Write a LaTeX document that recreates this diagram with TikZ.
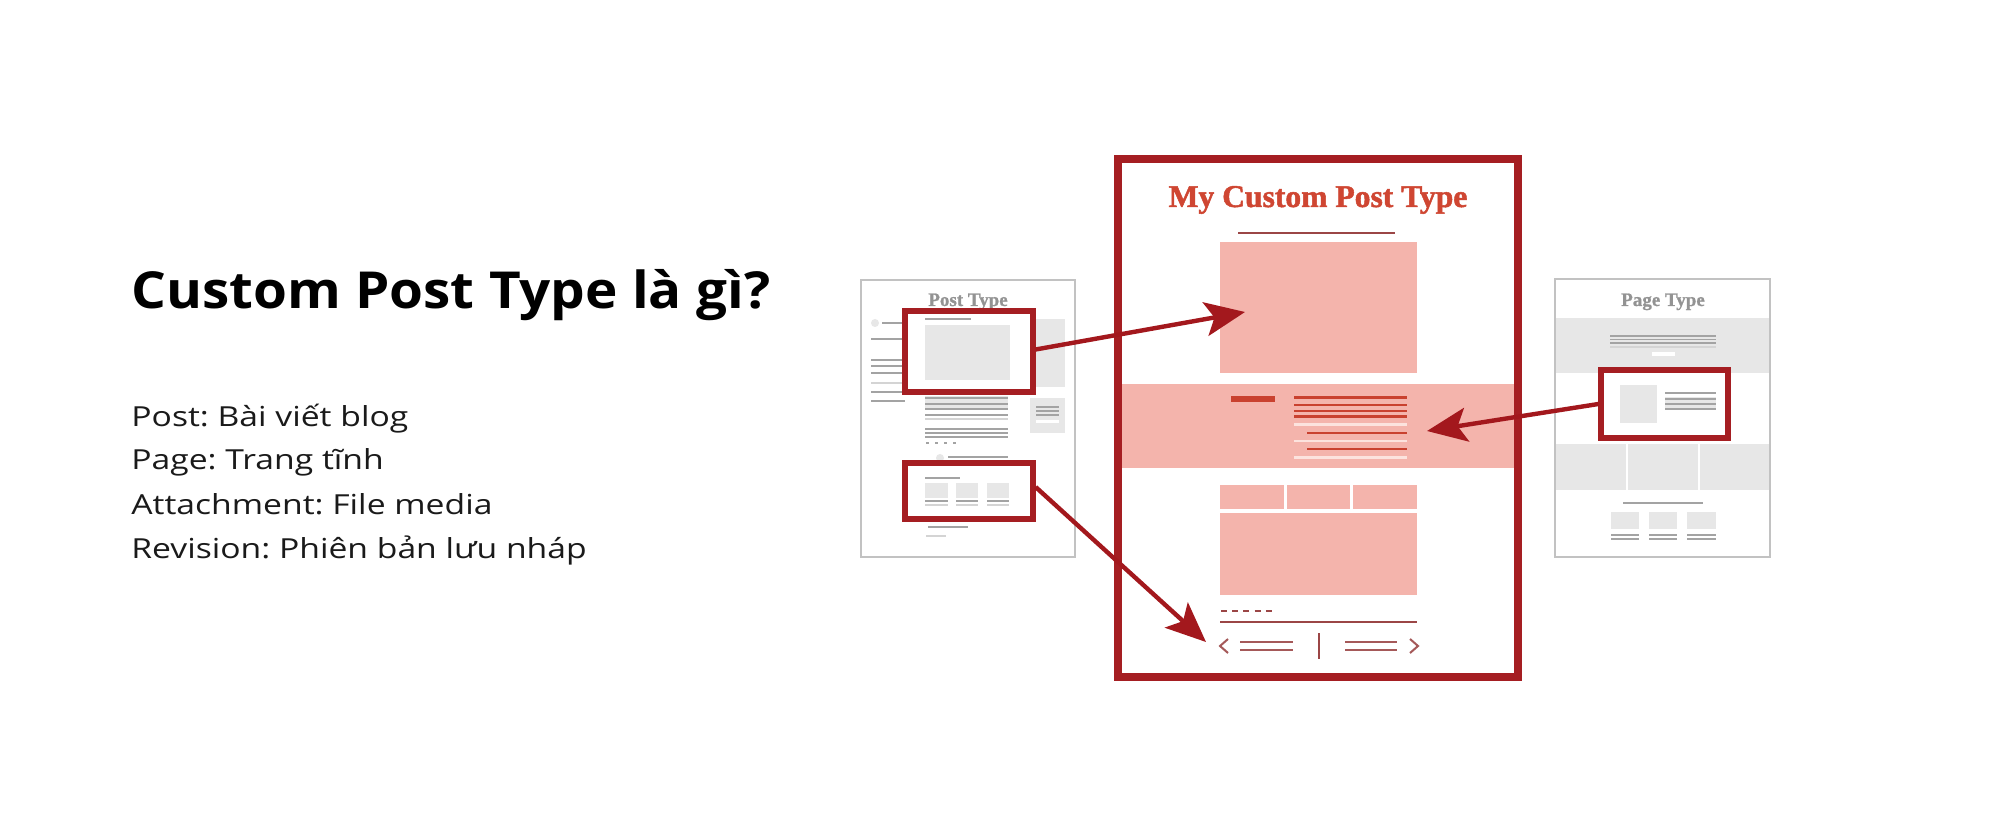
\documentclass[tikz,border=0pt]{standalone}
\usepackage{fontspec}
\usetikzlibrary{arrows.meta,fit}
\setmainfont{Open Sans}
\newfontfamily\titlef[FakeStretch=1.075]{Open Sans}
\newfontfamily\bodyf[FakeStretch=1.22]{Open Sans}
\newfontfamily\serifb[FakeBold=1.6]{Liberation Serif}
\newfontfamily\serifg[FakeBold=1.0]{Liberation Serif}
\definecolor{frame}{HTML}{A51E22}
\definecolor{arrowred}{HTML}{A3181D}
\definecolor{pinkf}{HTML}{F4B4AC}
\definecolor{titlered}{HTML}{CF4632}
\definecolor{linered}{HTML}{C9412F}
\definecolor{linewhite}{HTML}{FCE3DE}
\definecolor{brownl}{HTML}{9B4646}
\definecolor{grayf}{HTML}{E7E7E7}
\definecolor{grayl}{HTML}{A3A3A3}
\definecolor{grayb}{HTML}{C2C2C2}
\definecolor{textc}{HTML}{1A1A1A}
\tikzset{
  pagebox/.style={draw=grayb, line width=0.8pt, fill=white},
  gline/.style={draw=grayl, line width=0.9pt},
  glight/.style={draw=grayb!70, line width=0.9pt},
  hlbox/.style={draw=frame, line width=2.6pt, inner sep=0pt},
  rline/.style={draw=linered, line width=1.1pt},
  wline/.style={draw=linewhite, line width=1.1pt},
  navline/.style={draw=brownl!90, line width=1pt},
  bigarrow/.style={draw=arrowred, line width=2.2pt, -{Stealth[length=20pt, width=17pt, inset=4.5pt]}},
  pagetitle/.style={text=grayl!90!black, anchor=base, inner sep=0pt, font=\serifg\bfseries\fontsize{9.5}{10}\selectfont},
  bodytext/.style={anchor=base west, inner sep=0pt, text=textc, font=\bodyf\fontsize{13.8}{16}\selectfont},
}
\begin{document}
\frenchspacing
\begin{tikzpicture}[x=0.5pt, y=-0.5pt]
\useasboundingbox[fill=white] (0,0) rectangle (2000,833);

% ---------- left text ----------
\node[anchor=base west, inner sep=0pt, text=black, font=\titlef\bfseries\fontsize{25.5}{30}\selectfont] (title) at (131,309) {Custom Post Type là gì?};
\node[bodytext] (l1) at (131,427) {Post: Bài viết blog};
\node[bodytext] (l2) at (131,470) {Page: Trang tĩnh};
\node[bodytext] (l3) at (131,514) {Attachment: File media};
\node[bodytext] (l4) at (131,558) {Revision: Phiên bản lưu nháp};

% ---------- Post Type page ----------
\draw[pagebox] (861,280) rectangle (1075,557);
\node[pagetitle] (posttitle) at (968,306) {Post Type};
% sidebar
\fill[grayf] (875,323) circle (4);
\draw[gline] (882,323) -- (903,323);
\draw[gline] (871,339) -- (903,339);
\draw[gline] (871,360) -- (903,360);
\draw[gline] (871,366) -- (903,366);
\draw[gline] (871,373) -- (903,373);
\draw[glight] (871,383) -- (903,383);
\draw[gline] (871,392) -- (903,392);
\draw[gline] (871,401) -- (905,401);
% main column
\draw[gline] (925,319) -- (971,319);
\fill[grayf] (925,325) rectangle (1010,380);
\fill[grayf] (1035,319) rectangle (1065,387);
\fill[grayf] (1030,398) rectangle (1065,433);
\draw[gline] (1036,407) -- (1059,407);
\draw[gline] (1036,411) -- (1059,411);
\draw[gline] (1036,415) -- (1059,415);
\draw[draw=white, line width=1.5pt] (1036,422) -- (1059,422);
\fill[grayf] (925,396) rectangle (1008,409);
\draw[gline] (925,398) -- (1008,398);
\draw[gline] (925,404) -- (1008,404);
\draw[gline] (925,409) -- (1008,409);
\draw[gline] (925,415) -- (1008,415);
\draw[glight] (925,419) -- (1008,419);
\draw[gline] (925,429) -- (1008,429);
\draw[gline] (925,433) -- (1008,433);
\draw[gline] (925,437) -- (1008,437);
\draw[gline, dash pattern=on 1.5pt off 3pt] (926,443) -- (956,443);
\fill[grayf] (940,458) circle (4);
\draw[gline] (948,457) -- (1008,457);
% second highlighted block
\draw[gline] (925,478) -- (960,478);
\fill[grayf] (925,483) rectangle (948,498);
\fill[grayf] (956,483) rectangle (978,498);
\fill[grayf] (987,483) rectangle (1009,498);
\foreach \a/\b in {925/948, 956/978, 987/1009} {
  \draw[gline] (\a,501) -- (\b,501);
  \draw[glight] (\a,505) -- (\b,505);
}
\draw[gline] (928,527) -- (968,527);
\draw[glight] (926,536) -- (946,536);
% highlight boxes
\node[hlbox, fit={(905,311) (1033,392)}] (pbox1) {};
\node[hlbox, fit={(905,463) (1033,519)}] (pbox2) {};

% ---------- Page Type page ----------
\draw[pagebox] (1555,279) rectangle (1770,557);
\node[pagetitle] (pagetitle) at (1663,306) {Page Type};
\fill[grayf] (1556,318) rectangle (1769,373);
\draw[gline] (1610,336) -- (1716,336);
\draw[gline] (1610,339.5) -- (1716,339.5);
\draw[gline] (1610,343) -- (1716,343);
\draw[glight] (1610,347) -- (1716,347);
\fill[white] (1652,352) rectangle (1675,356);
\fill[white] (1601,370) rectangle (1728,438);
\fill[grayf] (1620,385) rectangle (1657,423);
\draw[gline] (1665,393) -- (1716,393);
\fill[grayf] (1665,397) rectangle (1716,408);
\draw[gline] (1665,399) -- (1716,399);
\draw[gline] (1665,404) -- (1716,404);
\draw[gline] (1665,409) -- (1716,409);
\fill[grayf] (1556,444) rectangle (1769,490);
\draw[white, line width=0.8pt] (1627,444) -- (1627,490);
\draw[white, line width=0.8pt] (1699,444) -- (1699,490);
\draw[gline] (1623,503) -- (1703,503);
\foreach \a/\b in {1611/1639, 1649/1677, 1687/1716} {
  \fill[grayf] (\a,512) rectangle (\b,529);
  \draw[gline] (\a,535) -- (\b,535);
  \draw[gline] (\a,539) -- (\b,539);
}
\node[hlbox, fit={(1601,370) (1728,438)}] (gbox) {};

% ---------- My Custom Post Type ----------
\node[anchor=base, inner sep=0pt, text=titlered, font=\serifb\bfseries\fontsize{15.8}{18}\selectfont] (cptitle) at (1318,207) {My Custom Post Type};
\draw[draw=brownl, line width=1.1pt] (1238,233) -- (1395,233);
\fill[pinkf] (1220,242) rectangle (1417,373);
\fill[pinkf] (1122,384) rectangle (1514,468);
\fill[linered] (1231,396) rectangle (1275,402);
\draw[rline] (1294,397.5) -- (1407,397.5);
\draw[rline] (1294,404.8) -- (1407,404.8);
\draw[rline] (1294,411) -- (1407,411);
\draw[rline] (1294,416.5) -- (1407,416.5);
\draw[wline] (1294,424.5) -- (1407,424.5);
\draw[rline] (1307,433) -- (1407,433);
\draw[wline] (1294,441) -- (1407,441);
\draw[rline] (1307,449.3) -- (1407,449.3);
\draw[wline] (1294,457.6) -- (1407,457.6);
\fill[pinkf] (1220,485) rectangle (1284,509);
\fill[pinkf] (1287,485) rectangle (1350,509);
\fill[pinkf] (1353,485) rectangle (1417,509);
\fill[pinkf] (1220,513) rectangle (1417,595);
\draw[draw=brownl, line width=1pt, dash pattern=on 3pt off 2.6pt] (1221,611) -- (1274,611);
\draw[draw=brownl, line width=1pt] (1220,622) -- (1417,622);
\draw[navline] (1228,639) -- (1220,646) -- (1228,653);
\draw[navline] (1240,641.5) -- (1293,641.5);
\draw[navline] (1240,650) -- (1293,650);
\draw[draw=brownl, line width=1pt] (1319,633) -- (1319,659);
\draw[navline] (1345,641.5) -- (1397,641.5);
\draw[navline] (1345,650) -- (1397,650);
\draw[navline] (1410,639) -- (1418,646) -- (1410,653);
\node[draw=frame, line width=4pt, inner sep=0pt, fit={(1118,159) (1518,677)}] (cpframe) {};

% ---------- arrows ----------
\coordinate (tip1) at (1245,312);
\coordinate (tip2) at (1427,431);
\coordinate (tip3) at (1206,642);
\draw[bigarrow] ([yshift=1pt]pbox1.east) -- (tip1);
\draw[bigarrow] (gbox.west) -- (tip2);
\draw[bigarrow] ([yshift=2pt]pbox2.east) -- (tip3);
\end{tikzpicture}
\end{document}
